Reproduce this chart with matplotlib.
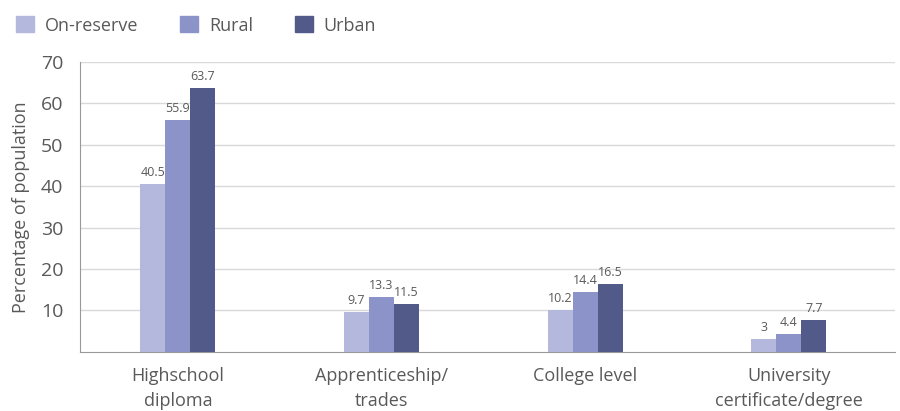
import matplotlib.pyplot as plt
import numpy as np
from matplotlib.patches import Patch

plt.rcParams['font.family'] = ['Open Sans', 'DejaVu Sans']

categories = ["Highschool\ndiploma", "Apprenticeship/\ntrades", "College level", "University\ncertificate/degree"]
series = ["On-reserve", "Rural", "Urban"]
on_reserve = [40.5, 9.7, 10.2, 3]
rural = [55.9, 13.3, 14.4, 4.4]
urban = [63.7, 11.5, 16.5, 7.7]
labels = [["40.5", "9.7", "10.2", "3"], ["55.9", "13.3", "14.4", "4.4"], ["63.7", "11.5", "16.5", "7.7"]]
colors = ["#b3b8dc", "#8c93c8", "#525a8a"]
text_col = "#595959"

fig = plt.figure(figsize=(9, 4.11), dpi=100)
ax = fig.add_axes([0.089, 0.144, 0.905, 0.705])

x = np.arange(len(categories))
w = 0.123
for i, vals in enumerate([on_reserve, rural, urban]):
    pos = x + (i - 1) * w
    ax.bar(pos, vals, width=w, color=colors[i], zorder=3)
    for p, v, t in zip(pos, vals, labels[i]):
        ax.text(p, v + 1.2, t, ha="center", va="bottom", fontsize=9, color=text_col)

ax.set_xlim(-0.48, 3.52)
ax.set_ylim(0, 70)
ax.set_yticks([10, 20, 30, 40, 50, 60, 70])
ax.set_xticks(x)
ax.set_xticklabels(categories, linespacing=1.5)
ax.grid(axis="y", color="#d9d9d9", linewidth=1, zorder=0)
for s in ["top", "right"]:
    ax.spines[s].set_visible(False)
ax.spines["left"].set_color("#999999")
ax.spines["bottom"].set_color("#999999")
ax.tick_params(axis="both", length=0, labelsize=13, colors=text_col)
ax.tick_params(axis="x", pad=11)
ax.tick_params(axis="y", pad=12, labelsize=14)
ax.set_ylabel("Percentage of population", fontsize=13, color=text_col, labelpad=8)

handles = [Patch(color=c) for c in colors]
fig.legend(handles, series, loc="upper left", bbox_to_anchor=(0.0, 1.0), ncol=3,
           frameon=False, fontsize=13, labelcolor=text_col, handlelength=1.0,
           handleheight=1.0, columnspacing=2.3, handletextpad=0.6)

fig.savefig("out.png")
